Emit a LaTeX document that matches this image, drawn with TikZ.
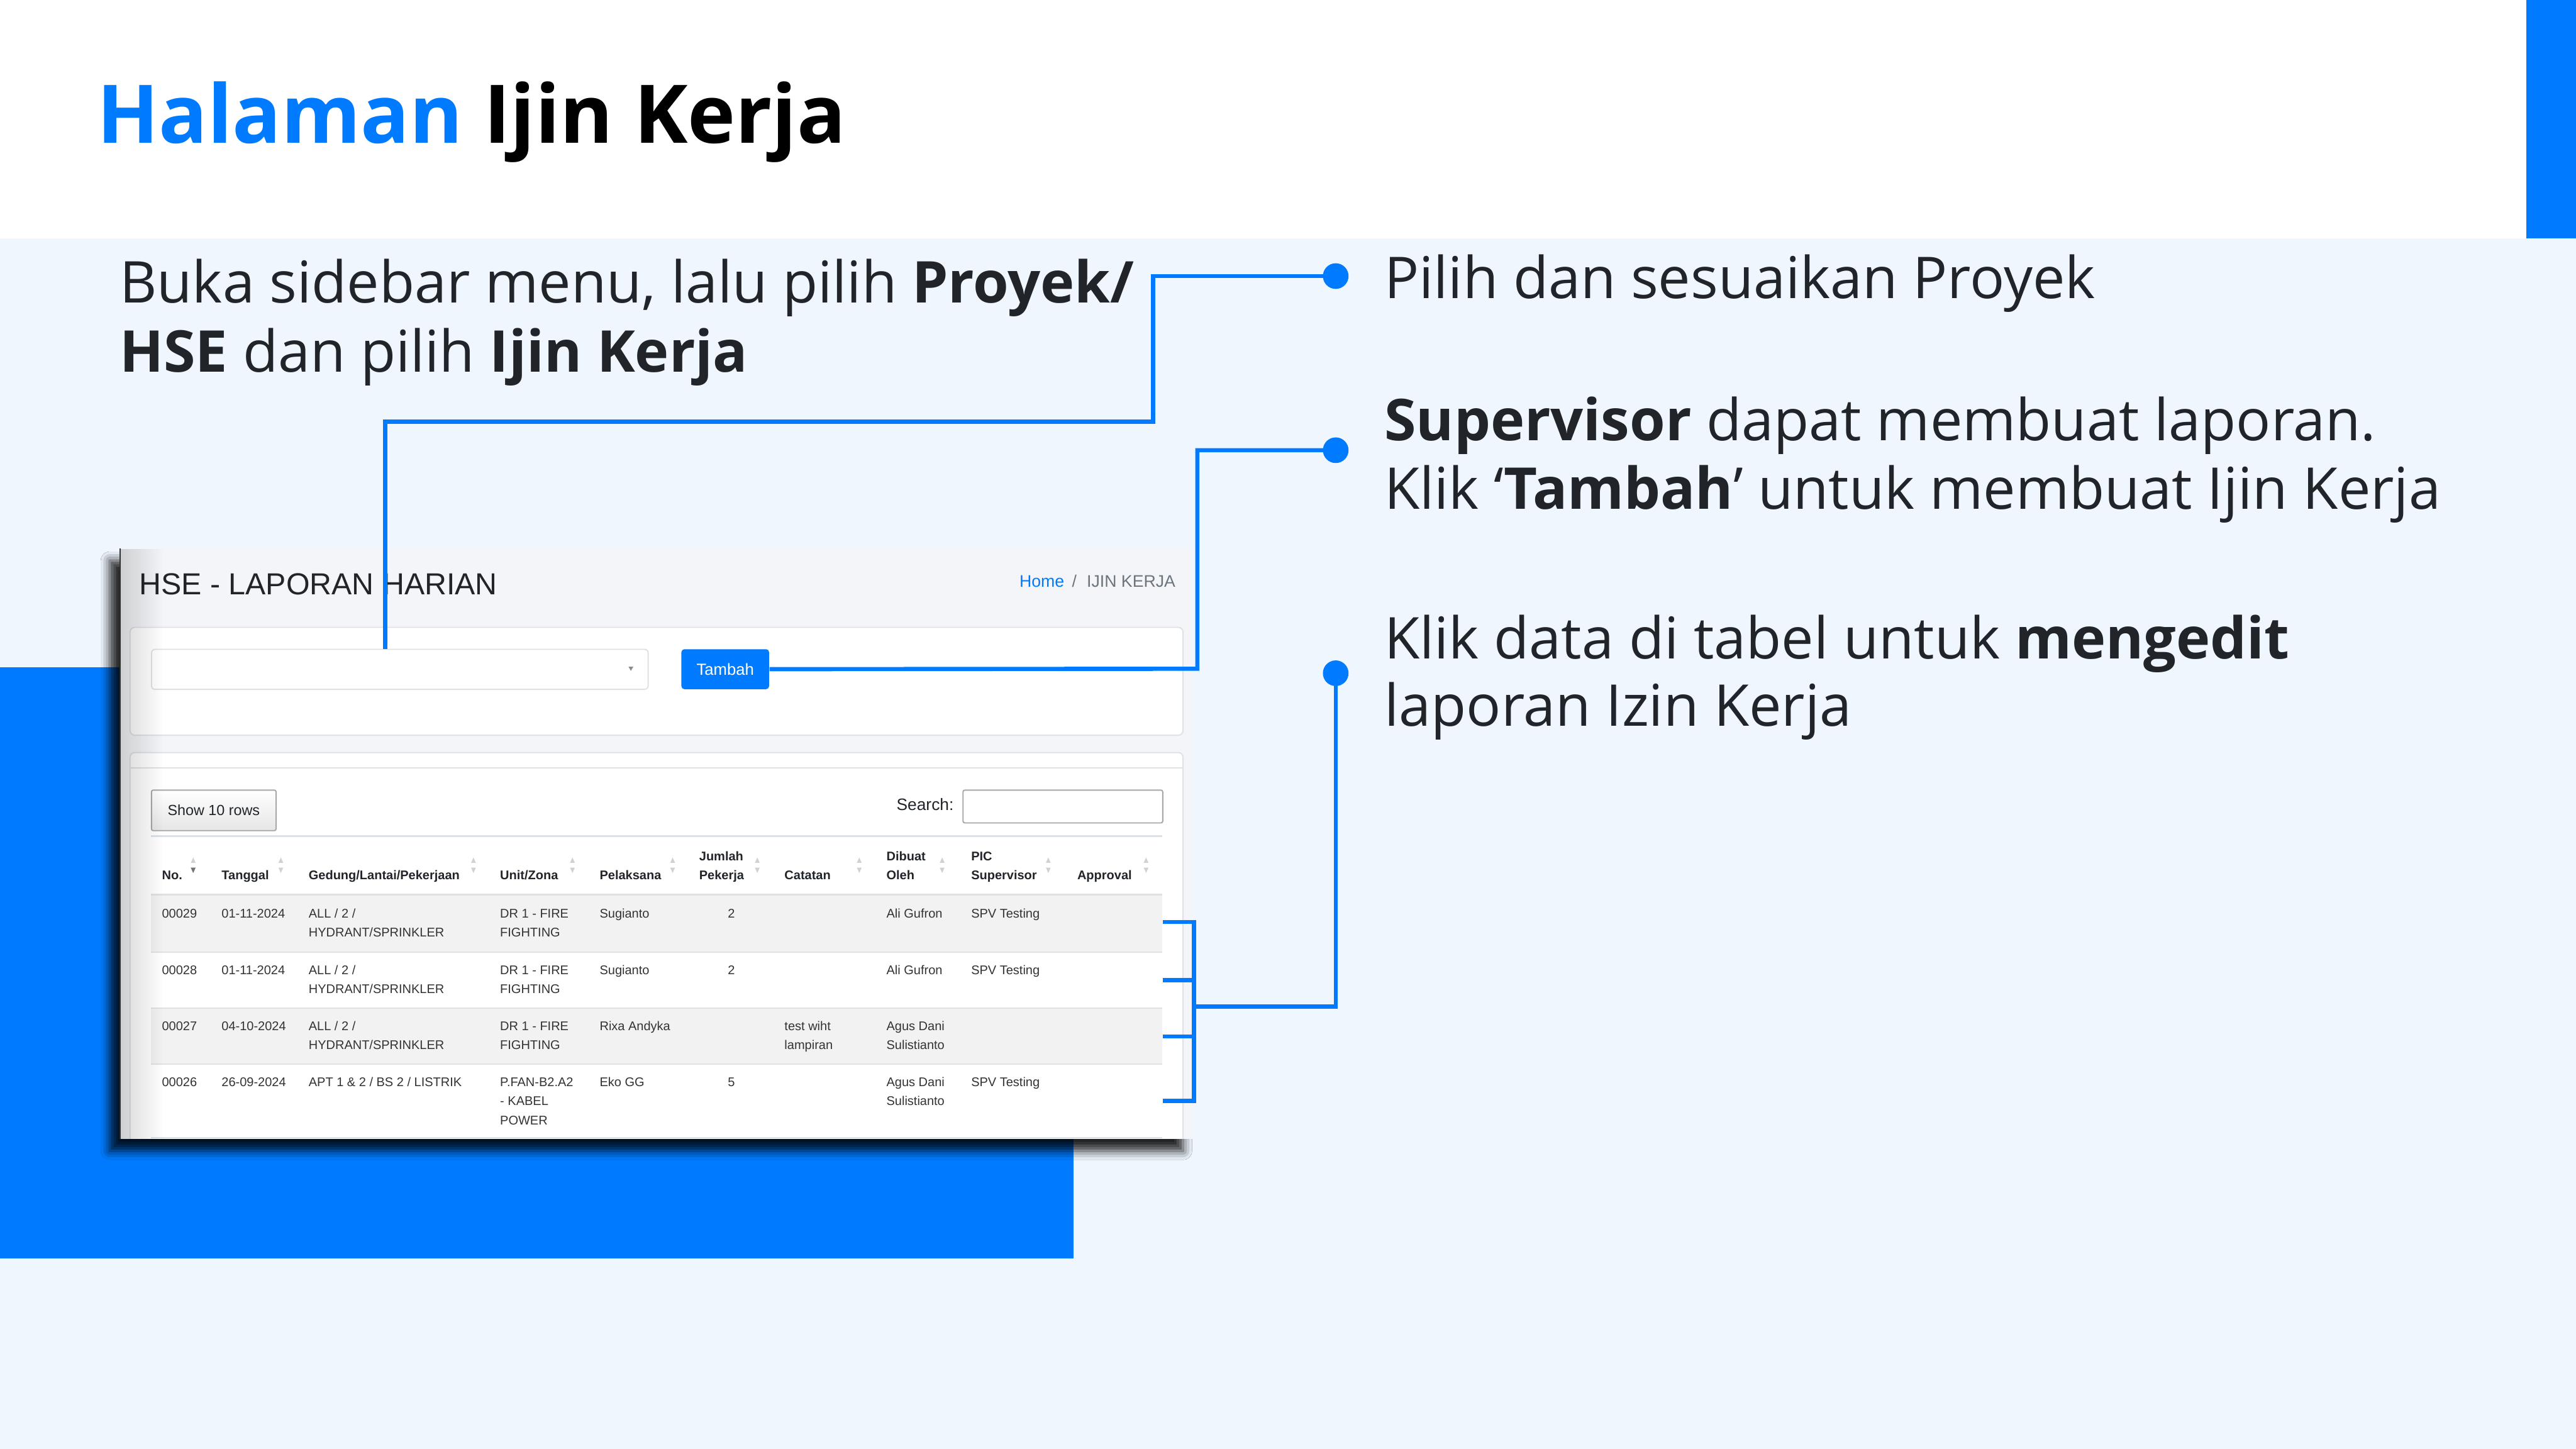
\documentclass[tikz,border=0pt]{standalone}
\usepackage{fontspec}
\setmainfont{Open Sans}
\newfontfamily\arial{Liberation Sans}
\usetikzlibrary{fadings,shadows.blur}
\definecolor{azul}{HTML}{007BFF}
\definecolor{fundo}{HTML}{EFF6FE}
\definecolor{tinta}{HTML}{212529}
\definecolor{cartao}{HTML}{F4F5F8}
\definecolor{borda}{HTML}{DEE2E6}
\definecolor{listra}{HTML}{F2F2F2}
\definecolor{cinza}{HTML}{6C757D}
\definecolor{celula}{HTML}{333333}
\begin{document}
\begin{tikzpicture}[x=1cm,y=-1cm,
  link/.style={draw=azul,line width=0.07cm},
  dot/.style={circle,fill=azul,inner sep=0pt,minimum size=0.43cm},
  txt/.style={anchor=base west,inner sep=0pt,text=tinta,font=\fontsize{27.5}{33}\selectfont},
  cell/.style={anchor=base west,inner sep=0pt,text=celula,font=\arial\fontsize{6}{7}\selectfont},
  head/.style={anchor=base west,inner sep=0pt,text=tinta,font=\arial\bfseries\fontsize{6}{7}\selectfont},
  setas/.style={fill=black!18}]
  \useasboundingbox (0,0) rectangle (43.2,24.3);
  % fundo da pagina
  \fill[fundo] (0,0) rectangle (43.2,24.3);
  \fill[white] (0,0) rectangle (43.2,4);
  \fill[azul] (42.37,0) rectangle (43.2,4);
  \fill[azul] (0,11.19) rectangle (18,21.1);

  \node[anchor=base west,inner sep=0pt,font=\bfseries\fontsize{38.6}{47}\selectfont] (titulo) at (1.62,2.40) {\textcolor{azul}{Halaman} Ijin Kerja};

  % textos
  \node[txt] (passo1a) at (2.00,5.08) {Buka sidebar menu, lalu pilih \textbf{Proyek/}};
  \node[txt] (passo1b) at (2.00,6.24) {\textbf{HSE} dan pilih \textbf{Ijin Kerja}};
  \node[txt] (nota1) at (23.21,5.00) {Pilih dan sesuaikan Proyek};
  \node[txt] (nota2a) at (23.21,7.39) {\textbf{Supervisor} dapat membuat laporan.};
  \node[txt] (nota2b) at (23.21,8.54) {Klik ‘\textbf{Tambah}’ untuk membuat Ijin Kerja};
  \node[txt] (nota3a) at (23.21,11.05) {Klik data di tabel untuk \textbf{mengedit}};
  \node[txt] (nota3b) at (23.21,12.18) {laporan Izin Kerja};

  % captura de tela
  \fill[cartao,blur shadow={shadow xshift=-0.16cm,shadow yshift=-0.2cm,shadow blur radius=0.15cm,shadow opacity=85}] (2.00,9.20) rectangle (20.00,19.10);
  \begin{scope}
  \clip (2.00,9.20) rectangle (20.00,19.10);
  \node[anchor=base west,inner sep=0pt,text=tinta,font=\arial\fontsize{14.5}{16}\selectfont] (judul) at (2.33,9.97) {HSE - LAPORAN HARIAN};
  \node[anchor=base west,inner sep=0pt,text=azul,font=\arial\fontsize{8}{9}\selectfont] (home) at (17.09,9.85) {Home};
  \node[anchor=base west,inner sep=0pt,text=cinza,font=\arial\fontsize{8}{9}\selectfont] (barra) at (17.97,9.85) {/};
  \node[anchor=base west,inner sep=0pt,text=cinza,font=\arial\fontsize{8}{9}\selectfont] (pagina) at (18.22,9.85) {IJIN KERJA};

  \filldraw[fill=white,draw=borda,line width=0.02cm,rounded corners=0.08cm] (2.18,10.52) rectangle (19.84,12.33);
  \node[draw=borda,fill=white,line width=0.02cm,rounded corners=0.06cm,minimum width=8.33cm,minimum height=0.67cm,anchor=north west,inner sep=0pt] (pilihan) at (2.53,10.88) {};
  \fill[black!45] (10.54,11.18) -- (10.62,11.18) -- (10.58,11.25) -- cycle;
  \node[fill=azul,rounded corners=0.05cm,minimum width=1.47cm,minimum height=0.67cm,anchor=north west,inner sep=0pt,text=white,font=\arial\fontsize{7.7}{8}\selectfont] (tambah) at (11.42,10.88) {Tambah};

  \filldraw[fill=white,draw=borda,line width=0.02cm,rounded corners=0.08cm] (2.18,12.62) rectangle (19.84,19.40);
  \draw[borda,line width=0.02cm] (2.18,12.88) -- (19.84,12.88);
  \node[draw=black!35,top color=white,bottom color=black!10,line width=0.02cm,rounded corners=0.03cm,minimum width=2.09cm,minimum height=0.68cm,anchor=north west,inner sep=0pt,text=tinta,font=\arial\fontsize{7}{8}\selectfont] (baris) at (2.53,13.24) {Show 10 rows};
  \node[anchor=base east,inner sep=0pt,text=tinta,font=\arial\fontsize{7.9}{9}\selectfont] (cari) at (16.00,13.59) {Search:};
  \node[draw=black!35,fill=white,line width=0.02cm,rounded corners=0.03cm,minimum width=3.35cm,minimum height=0.55cm,anchor=north west,inner sep=0pt] (kotak) at (16.14,13.24) {};

  % tabela
  \draw[borda,line width=0.025cm] (2.53,14.02) -- (19.49,14.02);
  \fill[listra] (2.53,15.02) rectangle (19.49,15.96);
  \fill[listra] (2.53,16.91) rectangle (19.49,17.84);
  \draw[borda,line width=0.035cm] (2.53,15.00) -- (19.49,15.00);
  \foreach \y in {15.965,16.905,17.845,19.08}
    \draw[borda,line width=0.02cm] (2.53,\y) -- (19.49,\y);

  \foreach \x/\l/\t [count=\i] in {2.71/1/No., 3.71/1/Tanggal, 5.17/1/{Gedung/Lantai/Pekerjaan}, 8.38/1/{Unit/Zona},
      10.05/1/Pelaksana, 11.72/0/Jumlah, 11.72/1/Pekerja, 13.15/1/Catatan, 14.86/0/Dibuat, 14.86/1/Oleh,
      16.28/0/PIC, 16.28/1/Supervisor, 18.06/1/Approval}
    \node[head] (h\i) at (\x,14.43+0.32*\l) {\t};
  \foreach \x in {3.24,4.71,7.94,9.60,11.28,12.70,14.41,15.80,17.58,19.22} {
    \fill[setas] (\x-0.04,14.47) -- (\x+0.04,14.47) -- (\x,14.38) -- cycle;
    \fill[setas] (\x-0.04,14.55) -- (\x+0.04,14.55) -- (\x,14.64) -- cycle;
  }
  \fill[black!55] (3.20,14.55) -- (3.28,14.55) -- (3.24,14.64) -- cycle;

  \foreach \x/\l/\t [count=\i] in {2.71/0/00029, 3.71/0/01-11-2024, 5.17/0/{ALL / 2 /}, 5.17/1/{HYDRANT/SPRINKLER},
      8.38/0/DR 1 - FIRE, 8.38/1/FIGHTING, 10.05/0/Sugianto, 12.20/0/2, 14.86/0/Ali Gufron, 16.28/0/SPV Testing}
    \node[cell] (a\i) at (\x,15.39+0.32*\l) {\t};
  \foreach \x/\l/\t [count=\i] in {2.71/0/00028, 3.71/0/01-11-2024, 5.17/0/{ALL / 2 /}, 5.17/1/{HYDRANT/SPRINKLER},
      8.38/0/DR 1 - FIRE, 8.38/1/FIGHTING, 10.05/0/Sugianto, 12.20/0/2, 14.86/0/Ali Gufron, 16.28/0/SPV Testing}
    \node[cell] (b\i) at (\x,16.34+0.32*\l) {\t};
  \foreach \x/\l/\t [count=\i] in {2.71/0/00027, 3.71/0/04-10-2024, 5.17/0/{ALL / 2 /}, 5.17/1/{HYDRANT/SPRINKLER},
      8.38/0/DR 1 - FIRE, 8.38/1/FIGHTING, 10.05/0/Rixa Andyka, 13.15/0/test wiht, 13.15/1/lampiran,
      14.86/0/Agus Dani, 14.86/1/Sulistianto}
    \node[cell] (c\i) at (\x,17.28+0.32*\l) {\t};
  \foreach \x/\l/\t [count=\i] in {2.71/0/00026, 3.71/0/26-09-2024, 5.17/0/{APT 1 \& 2 / BS 2 / LISTRIK},
      8.38/0/P.FAN-B2.A2, 8.38/1/- KABEL, 8.38/2/POWER, 10.05/0/Eko GG, 12.20/0/5,
      14.86/0/Agus Dani, 14.86/1/Sulistianto, 16.28/0/SPV Testing}
    \node[cell] (d\i) at (\x,18.22+0.32*\l) {\t};

  % sombra lateral
  \fill[black!80] (2.00,9.20) rectangle (2.03,19.10);
  \fill[black,path fading=east,fill opacity=0.15] (2.03,9.20) rectangle (2.75,19.10);
  \end{scope}

  % conectores
  \node[dot] (dot1) at (22.40,4.63) {};
  \node[dot] (dot2) at (22.40,7.55) {};
  \node[dot] (dot3) at (22.40,11.29) {};
  \coordinate (k1) at (19.34,7.07);
  \coordinate (s1) at (6.46,10.88);
  \coordinate (k2) at (20.08,11.215);
  \coordinate (k3) at (20.02,16.88);
  \coordinate (r1) at (19.50,15.46);
  \coordinate (r2) at (19.50,16.44);
  \coordinate (r3) at (19.50,17.38);
  \coordinate (r4) at (19.50,18.46);
  \draw[link] (dot1.center) -| (k1) -| (s1);
  \draw[link] (dot2.center) -| (k2) -- (tambah.east);
  \draw[link] (dot3.center) |- (k3);
  \draw[link] (r1) -| (k3) |- (r4);
  \draw[link] (r2) -- (r2 -| k3);
  \draw[link] (r3) -- (r3 -| k3);
\end{tikzpicture}
\end{document}
